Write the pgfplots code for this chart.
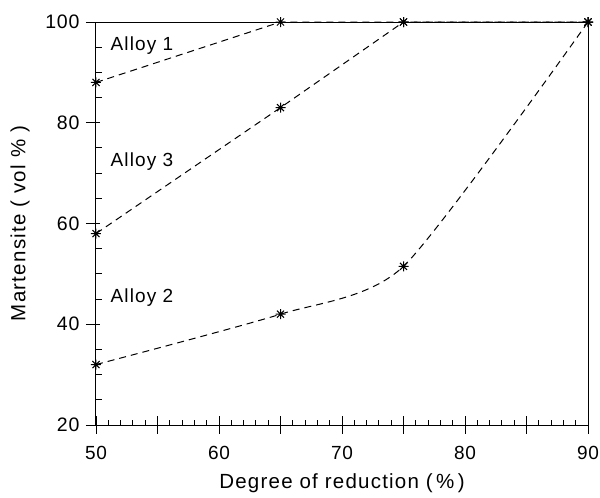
\documentclass[border=0pt]{standalone}
\usepackage{pgfplots}
\pgfplotsset{compat=1.18}
\usepackage{fontspec}
\setmainfont{Liberation Sans}
\newfontfamily\lblfont[LetterSpace=6]{Liberation Sans}
\newfontfamily\numfont[LetterSpace=4]{Liberation Sans}
\pgfdeclareplotmark{ast8}{%
  \pgfpathmoveto{\pgfqpoint{0pt}{\pgfplotmarksize}}\pgfpathlineto{\pgfqpoint{0pt}{-\pgfplotmarksize}}%
  \pgfpathmoveto{\pgfqpoint{\pgfplotmarksize}{0pt}}\pgfpathlineto{\pgfqpoint{-\pgfplotmarksize}{0pt}}%
  \pgfpathmoveto{\pgfqpoint{0.707\pgfplotmarksize}{0.707\pgfplotmarksize}}\pgfpathlineto{\pgfqpoint{-0.707\pgfplotmarksize}{-0.707\pgfplotmarksize}}%
  \pgfpathmoveto{\pgfqpoint{-0.707\pgfplotmarksize}{0.707\pgfplotmarksize}}\pgfpathlineto{\pgfqpoint{0.707\pgfplotmarksize}{-0.707\pgfplotmarksize}}%
  \pgfusepathqstroke}
\pgfplotsset{alloyline/.style={black, line width=1pt, dash pattern=on 7pt off 5pt, mark=ast8, mark size=5pt, mark options={solid, line width=1pt}}}
\begin{document}
\begin{tikzpicture}
\begin{axis}[
  scale only axis,
  width=492pt, height=403pt,
  xmin=50, xmax=90, ymin=20, ymax=100,
  xtick={50,60,70,80,90},
  minor x tick num=9,
  ytick={20,40,60,80,100},
  minor y tick num=3,
  xtick pos=bottom, ytick pos=left,
  tick align=inside,
  major tick length=4pt,
  minor tick length=6pt,
  minor x tick style={/pgfplots/minor tick length=5pt},
  tick style={black, line width=0.9pt},
  extra x ticks={50,55,60,65,70,75,80,85,90},
  extra x tick labels={},
  extra x tick style={major tick length=17pt, tick align=center},
  extra y ticks={20,40,60,80,100},
  extra y tick labels={},
  extra y tick style={major tick length=10pt, tick align=outside},
  axis line style={line width=1pt},
  xticklabel style={font=\fontsize{19}{21}\numfont, yshift=-18pt},
  yticklabel style={font=\fontsize{19.5}{21}\numfont, xshift=-13pt},
  /pgf/number format/assume math mode=true,
  xlabel={Degree of reduction (\,\%\,)},
  ylabel={Martensite ( vol \% )},
  xlabel style={font=\fontsize{20.5}{23}\lblfont, yshift=2pt},
  ylabel style={font=\fontsize{20.5}{23}\lblfont, yshift=-1pt},
  clip=false,
]
\addplot[alloyline] coordinates {(50,88) (65,100) (75,100) (90,100)};
\addplot[alloyline] coordinates {(50,58) (65,83) (75,100) (90,100)};
\addplot[alloyline, smooth, tension=0.4] coordinates {(50,32) (65,42) (75,51.5) (90,100)};
\node[anchor=west, font=\fontsize{19}{22}\lblfont] at (axis cs:50.9,95.3) {Alloy 1};
\node[anchor=west, font=\fontsize{19}{22}\lblfont] at (axis cs:50.9,72.3) {Alloy 3};
\node[anchor=west, font=\fontsize{19}{22}\lblfont] at (axis cs:50.9,45.3) {Alloy 2};
\end{axis}
\pgfresetboundingbox
\useasboundingbox (current axis.south west) ++(-96pt,-73pt) rectangle ++(600pt,498pt);
\end{tikzpicture}
\end{document}
